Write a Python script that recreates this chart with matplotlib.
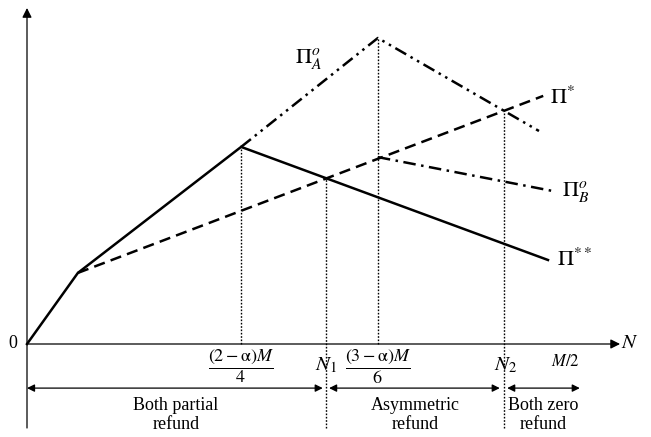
import numpy as np
import matplotlib
matplotlib.use("Agg")
import matplotlib.pyplot as plt

plt.rcParams['font.family'] = ['Liberation Serif', 'DejaVu Serif']
plt.rcParams['mathtext.fontset'] = 'stix'

# points cles sur l'axe N (unites arbitraires, M/2 ~ 1)
n_kink = 0.096
n_peak = 0.404      # (2-a)M/4
n_1 = 0.564
n_top = 0.662       # (3-a)M/6
n_2 = 0.900
n_half = 1.043      # M/2

# courbes de profit
pi_ss_x = [0.0, n_kink, n_peak, 0.983]
pi_ss_y = [0.0, 0.237, 0.657, 0.280]
pi_s_x = [n_kink, 0.974]
pi_s_y = [0.237, 0.827]
pi_a_x = [n_peak, n_top, 0.966]
pi_a_y = [0.657, 1.020, 0.710]
pi_b_x = [n_top, 0.992]
pi_b_y = [0.623, 0.510]

regions = ["Both partial\nrefund", "Asymmetric\nrefund", "Both zero\nrefund"]

fig = plt.figure(figsize=(6.51, 4.37), dpi=100)
ax = fig.add_axes([0, 0, 1, 1])
ax.set_xlim(-27 / 530, 624 / 530)
ax.set_ylim(-93 / 300, 344 / 300)
ax.axis('off')

lw = 1.8
ax.plot(pi_ss_x, pi_ss_y, color='black', lw=lw, solid_joinstyle='miter')
ax.plot(pi_s_x, pi_s_y, color='black', lw=lw, linestyle=(0, (4.5, 2.5)))
ax.plot(pi_a_x, pi_a_y, color='black', lw=lw, linestyle=(0, (5, 2, 1, 2, 1, 2)))
ax.plot(pi_b_x, pi_b_y, color='black', lw=lw, linestyle=(0, (5, 2.2, 1, 2.2)))

# axes avec fleches
ax.annotate('', xy=(0, 1.12), xytext=(0, -0.28),
            arrowprops=dict(arrowstyle='-|>', lw=0.9, color='black',
                            mutation_scale=14, shrinkA=0, shrinkB=0))
ax.annotate('', xy=(1.119, 0), xytext=(0, 0),
            arrowprops=dict(arrowstyle='-|>', lw=0.9, color='black',
                            mutation_scale=14, shrinkA=0, shrinkB=0))

# lignes pointillees verticales
dot = (0, (1.2, 1.2))
y_n1 = np.interp(n_1, pi_ss_x, pi_ss_y)
y_n2 = np.interp(n_2, pi_s_x, pi_s_y)
ax.plot([n_peak, n_peak], [0, max(pi_ss_y)], color='black', lw=1.0, linestyle=dot)
ax.plot([n_top, n_top], [0, max(pi_a_y)], color='black', lw=1.0, linestyle=dot)
ax.plot([n_1, n_1], [-0.28, y_n1], color='black', lw=1.0, linestyle=dot)
ax.plot([n_2, n_2], [-0.28, y_n2], color='black', lw=1.0, linestyle=dot)

# fleches des regions
row = -0.147
bounds = [(0.0, n_1 - 0.006), (n_1 + 0.006, n_2 - 0.008), (n_2 + 0.006, n_half)]
for (a, b), lab in zip(bounds, regions):
    ax.annotate('', xy=(b, row), xytext=(a, row),
                arrowprops=dict(arrowstyle='<|-|>', lw=0.9, color='black',
                                mutation_scale=11, shrinkA=0, shrinkB=0))
ax.text(0.281, -0.237, regions[0], ha='center', va='center', fontsize=13, linespacing=1.15)
ax.text(0.732, -0.237, regions[1], ha='center', va='center', fontsize=13, linespacing=1.15)
ax.text(0.974, -0.237, regions[2], ha='center', va='center', fontsize=13, linespacing=1.15)

# etiquettes des axes
ax.text(-0.026, 0, '0', ha='center', va='center', fontsize=13)
ax.text(1.138, 0, '$N$', ha='center', va='center', fontsize=15)
ax.text(n_peak, -0.075, r'$\dfrac{(2-\mathrm{\alpha})M}{4}$', ha='center', va='center', fontsize=13)
ax.text(n_top, -0.075, r'$\dfrac{(3-\mathrm{\alpha})M}{6}$', ha='center', va='center', fontsize=13)
ax.text(n_1, -0.07, '$N_1$', ha='center', va='center', fontsize=15)
ax.text(n_2 + 0.004, -0.07, '$N_2$', ha='center', va='center', fontsize=15)
ax.text(1.015, -0.06, '$M/2$', ha='center', va='center', fontsize=12)

# etiquettes des courbes
ax.text(0.532, 0.953, r'$\Pi_A^o$', ha='center', va='center', fontsize=16)
ax.text(0.987, 0.82, r'$\Pi^{*}$', ha='left', va='center', fontsize=16)
ax.text(1.009, 0.51, r'$\Pi_B^o$', ha='left', va='center', fontsize=16)
ax.text(1.0, 0.28, r'$\Pi^{**}$', ha='left', va='center', fontsize=16)

fig.savefig('out.png', dpi=100)
